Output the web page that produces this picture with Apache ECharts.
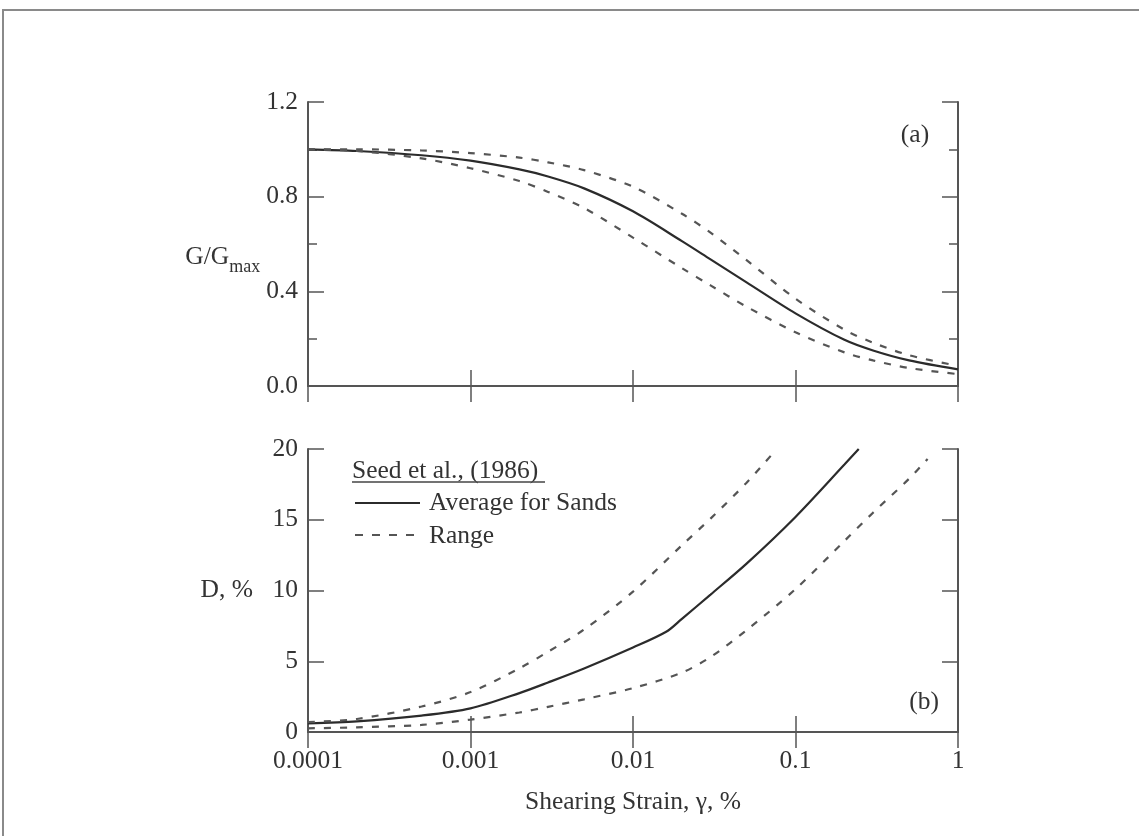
<!DOCTYPE html>
<html>
<head>
<meta charset="utf-8">
<script src="https://cdn.jsdelivr.net/npm/echarts@6/dist/echarts.min.js"></script>
<style>
  html, body { margin: 0; background: #fff; }
  #main { width: 1139px; height: 836px; }
</style>
</head>
<body>
<div id="main"></div>
<script>
const FONT = "Liberation Serif";
const FS = 25.5;
const INK = "#333";
const AXIS = "#555";

// shared strain tick labels (log axis, %)
const xTickLabels = ["0.0001", "0.001", "0.01", "0.1", "1"];

// (a) G/Gmax vs shearing strain
const gStrain = [0.0001, 0.0002, 0.0005, 0.001, 0.002, 0.003, 0.005, 0.01, 0.02, 0.03, 0.05, 0.1, 0.2, 0.3, 0.5, 1];
const gAverage = [1.0, 0.993, 0.975, 0.952, 0.915, 0.885, 0.835, 0.738, 0.612, 0.535, 0.438, 0.307, 0.195, 0.15, 0.108, 0.07];
const gUpper = [1.0, 1.0, 0.995, 0.984, 0.965, 0.945, 0.912, 0.842, 0.728, 0.648, 0.532, 0.369, 0.238, 0.183, 0.13, 0.085];
const gLower = [1.0, 0.993, 0.962, 0.92, 0.866, 0.82, 0.752, 0.627, 0.498, 0.425, 0.335, 0.227, 0.142, 0.108, 0.076, 0.05];

// (b) damping ratio D (%) vs shearing strain
const dStrainAverage = [0.0001, 0.0002, 0.0005, 0.001, 0.002, 0.003, 0.005, 0.01, 0.016, 0.02, 0.03, 0.05, 0.1, 0.2, 0.245];
const dAverage = [0.6, 0.75, 1.16, 1.67, 2.75, 3.5, 4.49, 5.97, 7.08, 8.0, 9.71, 11.9, 15.2, 18.9, 20];
const dStrainUpper = [0.0001, 0.0002, 0.0005, 0.001, 0.002, 0.003, 0.005, 0.01, 0.02, 0.03, 0.05, 0.0766];
const dUpper = [0.7, 0.92, 1.8, 2.82, 4.5, 5.67, 7.24, 9.92, 13.2, 15.08, 17.62, 20];
const dStrainLower = [0.0001, 0.0002, 0.0005, 0.001, 0.002, 0.003, 0.005, 0.01, 0.02, 0.03, 0.05, 0.1, 0.2, 0.3, 0.5, 0.65];
const dLower = [0.26, 0.33, 0.5, 0.88, 1.38, 1.78, 2.31, 3.1, 4.2, 5.3, 7.2, 10.1, 13.5, 15.5, 17.9, 19.3];

function pairs(xs, ys) {
  return xs.map((x, i) => [x, ys[i]]);
}

const tickStyle = { color: AXIS, width: 1.5 };

function strainAxis(gridIndex, position, showLabel) {
  return {
    type: "log",
    logBase: 10,
    gridIndex: gridIndex,
    position: position,
    min: 0.0001,
    max: 1,
    axisLine: { show: true, lineStyle: { color: AXIS, width: 2 } },
    axisTick: { show: true, inside: true, length: 16, lineStyle: tickStyle },
    minorTick: { show: false },
    splitLine: { show: false },
    axisLabel: {
      show: showLabel,
      margin: 16,
      color: INK,
      fontFamily: FONT,
      fontSize: FS,
      formatter: (v) => xTickLabels[Math.round(Math.log10(v)) + 4],
    },
  };
}

function valueAxis(gridIndex, position, max, interval, minor, showLabel) {
  return {
    type: "value",
    gridIndex: gridIndex,
    position: position,
    min: 0,
    max: max,
    interval: interval,
    axisLine: { show: true, lineStyle: { color: AXIS, width: 2 } },
    axisTick: { show: true, inside: true, length: 16, lineStyle: tickStyle },
    minorTick: { show: minor, splitNumber: 2, length: 9, lineStyle: tickStyle },
    splitLine: { show: false },
    minorSplitLine: { show: false },
    axisLabel: {
      show: showLabel,
      margin: 10,
      color: INK,
      fontFamily: FONT,
      fontSize: FS,
      formatter: (v) => (max < 5 ? v.toFixed(1) : String(v)),
    },
  };
}

let myChart = echarts.init(document.getElementById("main"), null, { renderer: "canvas" });

let solid = { color: "#2b2b2b", width: 2.2, type: "solid" };
let dashed = { color: "#555", width: 2.2, type: [7, 9] };

let yG = valueAxis(0, "left", 1.2, 0.4, true, true);
yG.name = "{a|G/G}{b|max}";
yG.nameLocation = "middle";
yG.nameRotate = 0;
yG.nameGap = 43;
yG.nameTextStyle = {
  color: INK,
  fontFamily: FONT,
  fontSize: FS,
  padding: [26, 0, 0, 0],
  rich: {
    a: { color: INK, fontFamily: FONT, fontSize: FS },
    b: { color: INK, fontFamily: FONT, fontSize: 18, padding: [20, 0, 0, 0] },
  },
};

let yD = valueAxis(1, "left", 20, 5, false, true);
yD.name = "D, %";
yD.nameLocation = "middle";
yD.nameRotate = 0;
yD.nameGap = 55;
yD.nameTextStyle = { color: INK, fontFamily: FONT, fontSize: FS };

let xD = strainAxis(1, "bottom", true);
xD.name = "Shearing Strain, \u03b3, %";
xD.nameLocation = "middle";
xD.nameGap = 57;
xD.nameTextStyle = { color: INK, fontFamily: FONT, fontSize: FS };

function curve(name, xi, yi, data, style) {
  return {
    name: name,
    type: "line",
    xAxisIndex: xi,
    yAxisIndex: yi,
    data: data,
    showSymbol: false,
    smooth: 0.3,
    lineStyle: style,
  };
}

let option = {
  backgroundColor: "#fff",
  animation: false,
  grid: [
    { left: 308, top: 102, width: 650, height: 284, containLabel: false, outerBoundsMode: "none" },
    { left: 308, top: 449, width: 650, height: 283, containLabel: false, outerBoundsMode: "none" },
  ],
  xAxis: [
    strainAxis(0, "bottom", false),
    strainAxis(0, "top", false),
    xD,
    strainAxis(1, "top", false),
  ],
  yAxis: [
    yG,
    valueAxis(0, "right", 1.2, 0.4, true, false),
    yD,
    valueAxis(1, "right", 20, 5, false, false),
  ],
  series: [
    curve("Average for Sands", 0, 0, pairs(gStrain, gAverage), solid),
    curve("Range", 0, 0, pairs(gStrain, gUpper), dashed),
    curve("Range", 0, 0, pairs(gStrain, gLower), dashed),
    curve("Average for Sands", 2, 2, pairs(dStrainAverage, dAverage), solid),
    curve("Range", 2, 2, pairs(dStrainUpper, dUpper), dashed),
    curve("Range", 2, 2, pairs(dStrainLower, dLower), dashed),
  ],
  graphic: [
    // page frame
    { type: "rect", silent: true, z: -10, shape: { x: 3, y: 10, width: 1300, height: 1000 }, style: { fill: "none", stroke: "#8a8a8a", lineWidth: 2 } },
    // panel labels
    { type: "text", style: { text: "(a)", x: 915, y: 135, align: "center", verticalAlign: "middle", font: FS + "px " + FONT, fill: INK } },
    { type: "text", style: { text: "(b)", x: 924, y: 702, align: "center", verticalAlign: "middle", font: FS + "px " + FONT, fill: INK } },
    // legend of panel (b)
    { type: "text", style: { text: "Seed et al., (1986)", x: 352, y: 471, align: "left", verticalAlign: "middle", font: FS + "px " + FONT, fill: INK } },
    { type: "line", shape: { x1: 352, y1: 482, x2: 545, y2: 482 }, style: { stroke: "#444", lineWidth: 1.5 } },
    { type: "line", shape: { x1: 355, y1: 503, x2: 420, y2: 503 }, style: { stroke: "#2b2b2b", lineWidth: 2 } },
    { type: "text", style: { text: "Average for Sands", x: 429, y: 503, align: "left", verticalAlign: "middle", font: FS + "px " + FONT, fill: INK } },
    { type: "line", shape: { x1: 355, y1: 535, x2: 420, y2: 535 }, style: { stroke: "#555", lineWidth: 2, lineDash: [8, 9] } },
    { type: "text", style: { text: "Range", x: 429, y: 536, align: "left", verticalAlign: "middle", font: FS + "px " + FONT, fill: INK } },
  ],
};

myChart.setOption(option);
</script>
</body>
</html>
